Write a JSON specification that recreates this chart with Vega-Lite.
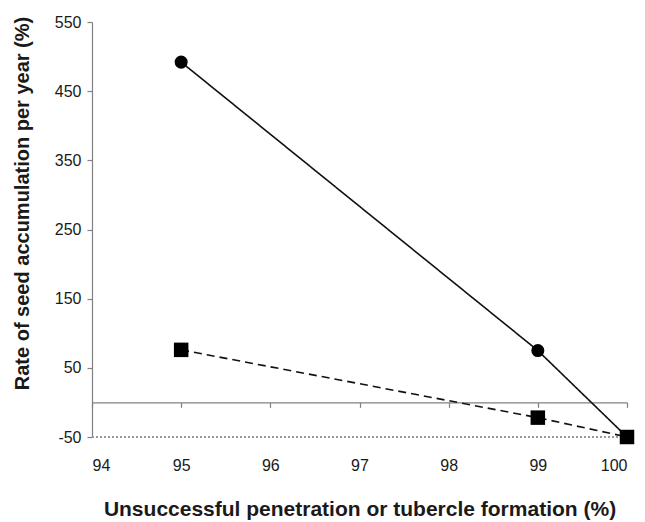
{
  "$schema": "https://vega.github.io/schema/vega-lite/v6.json",
  "width": 535,
  "height": 415,
  "autosize": {"type": "none"},
  "padding": {"left": 92, "top": 22, "right": 18, "bottom": 85},
  "background": "white",
  "config": {
    "view": {"stroke": null},
    "font": "Liberation Sans",
    "axis": {"grid": false, "labelFont": "Liberation Sans", "titleFont": "Liberation Sans"}
  },
  "data": {
    "values": [
      {"x": 95, "y": 492, "s": "A"},
      {"x": 99, "y": 75, "s": "A"},
      {"x": 100, "y": -50, "s": "A"},
      {"x": 95, "y": 76, "s": "B"},
      {"x": 99, "y": -22, "s": "B"},
      {"x": 100, "y": -50, "s": "B"}
    ]
  },
  "encoding": {
    "x": {
      "field": "x", "type": "quantitative",
      "scale": {"domain": [94, 100], "nice": false, "zero": false},
      "axis": {
        "title": "Unsuccessful penetration or tubercle formation (%)",
        "values": [94, 95, 96, 97, 98, 99, 100],
        "labelExpr": "datum.value + ''",
        "offset": -34.6,
        "domainColor": "#808080", "domainWidth": 1.2,
        "tickColor": "#808080", "tickSize": 5, "tickWidth": 1.2,
        "labelFontSize": 16, "labelColor": "#1a1a1a", "labelPadding": 50,
        "titleFontSize": 21, "titleFontWeight": "bold", "titleColor": "#1a1a1a", "titlePadding": 25
      }
    },
    "y": {
      "field": "y", "type": "quantitative",
      "scale": {"domain": [-50, 550], "nice": false, "zero": false},
      "axis": {
        "title": "Rate of seed accumulation per year (%)",
        "values": [-50, 50, 150, 250, 350, 450, 550],
        "labelExpr": "datum.value + ''",
        "domainColor": "#808080", "domainWidth": 1.2,
        "tickColor": "#808080", "tickSize": 5, "tickWidth": 1.2,
        "labelFontSize": 16, "labelColor": "#1a1a1a", "labelPadding": 6,
        "titleFontSize": 20, "titleFontWeight": "bold", "titleColor": "#1a1a1a",
        "titleX": -60, "titleY": 181
      }
    }
  },
  "layer": [
    {
      "mark": {"type": "rule", "color": "#9a9a9a", "strokeDash": [2, 2], "strokeWidth": 1.2},
      "encoding": {"y": {"datum": -50}, "x": {"value": 0}, "x2": {"value": 535}}
    },
    {
      "mark": {"type": "line", "color": "#111111", "strokeWidth": 1.6},
      "encoding": {
        "detail": {"field": "s"},
        "strokeDash": {
          "field": "s", "type": "nominal",
          "scale": {"domain": ["A", "B"], "range": [[1, 0], [8, 5]]},
          "legend": null
        }
      }
    },
    {
      "mark": {"type": "point", "filled": true, "color": "#000000", "opacity": 1},
      "encoding": {
        "shape": {
          "field": "s", "type": "nominal",
          "scale": {"domain": ["A", "B"], "range": ["circle", "square"]},
          "legend": null
        },
        "size": {
          "field": "s", "type": "nominal",
          "scale": {"domain": ["A", "B"], "range": [170, 210]},
          "legend": null
        }
      }
    }
  ]
}
